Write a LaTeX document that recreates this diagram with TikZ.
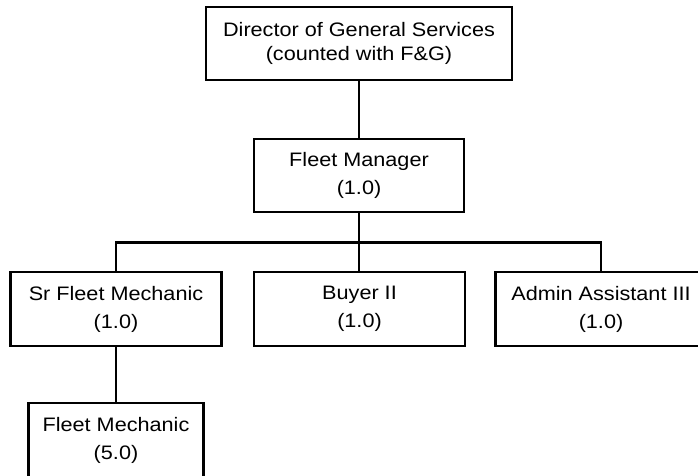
\documentclass[tikz,border=0pt]{standalone}
\usepackage{fontspec}
\setmainfont{Liberation Sans}[FakeStretch=1.11]
\begin{document}
\begin{tikzpicture}[x=1pt,y=-1pt,
  box/.style={draw=black,line width=2.5pt,fill=white,inner sep=0pt,align=center,
    minimum height=73pt,font=\fontsize{19.5}{28}\selectfont},
  link/.style={line width=2.5pt,draw=black}]
\useasboundingbox (0,0) rectangle (698,476);
\clip (0,0) rectangle (698,476);
\node[box,minimum width=306pt,font=\fontsize{19.5}{24.6}\selectfont] (dir) at (359,43.5) {Director of General Services\\(counted with F\&G)};
\node[box,minimum width=210pt] (fm) at (359,175.5) {Fleet Manager\\(1.0)};
\node[box,minimum width=211pt,minimum height=74pt] (sr) at (116,309) {Sr Fleet Mechanic\\(1.0)};
\node[box,minimum width=211pt,minimum height=74pt] (buyer) at (359.5,309) {Buyer II\\(1.0)};
\node[box,minimum width=211pt,minimum height=74pt] (admin) at (601,309) {Admin Assistant III\\(1.0)};
\node[box,minimum width=175pt,minimum height=74pt] (fmech) at (116,440) {Fleet Mechanic\\(5.0)};
\coordinate (j) at (359,242.7);
\draw[link] (dir.south) -- (fm.north);
\draw[link] (fm.south) -- (fm.south |- buyer.north);
\draw[link] (sr.north) |- (j) -| (admin.north);
\draw[link] (sr.south) -- (fmech.north);
\end{tikzpicture}
\end{document}
